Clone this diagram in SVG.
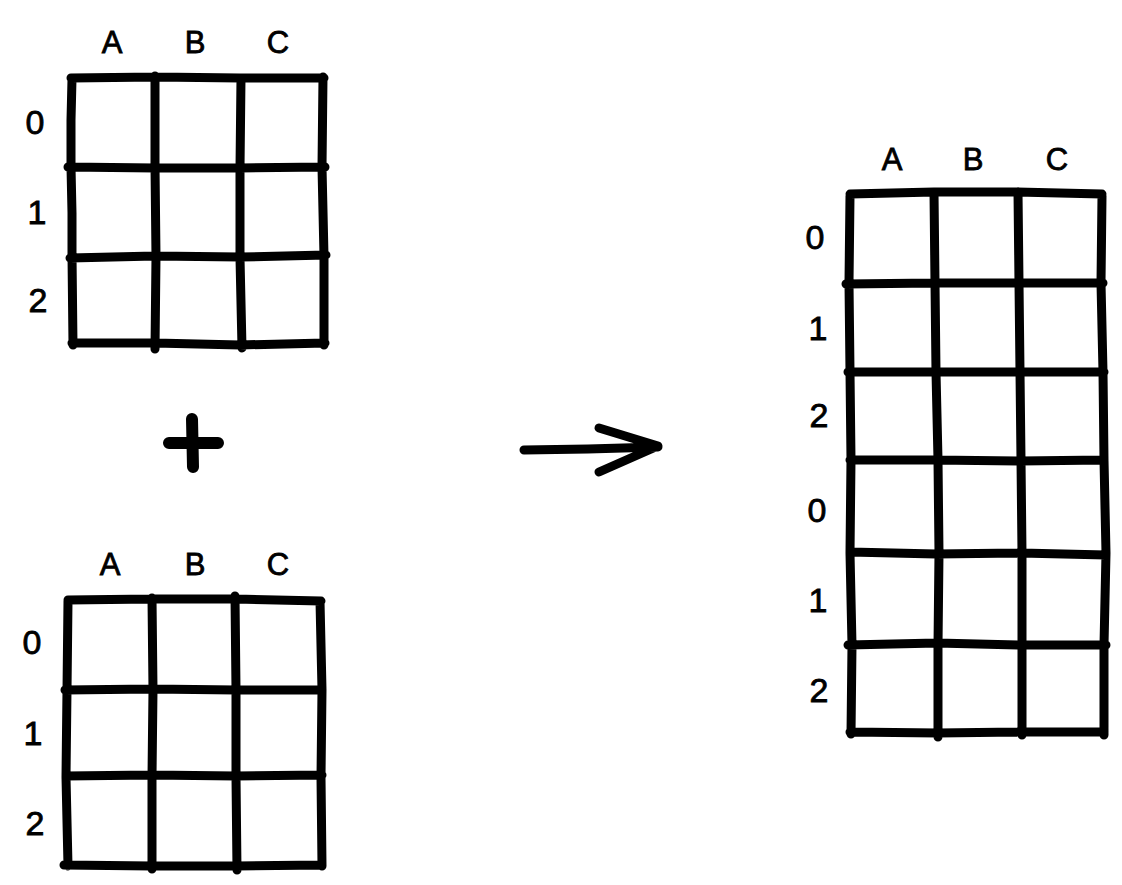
<svg xmlns="http://www.w3.org/2000/svg" width="1122" height="885" viewBox="0 0 1122 885">
<style>
.g{fill:none;stroke:#000;stroke-width:9;stroke-linecap:round;stroke-linejoin:round}
.col{font-family:"Liberation Sans","DejaVu Sans",sans-serif;font-size:31px;fill:#000;stroke:#000;stroke-width:0.8;text-anchor:middle}
.row{font-family:"Liberation Sans","DejaVu Sans",sans-serif;font-size:34px;fill:#000;stroke:#000;stroke-width:0.8;text-anchor:middle;dominant-baseline:central}
.c{fill:none;stroke:#000;stroke-width:9;stroke-linecap:round;stroke-linejoin:round}
</style>
<rect width="1122" height="885" fill="#fff"/>
<g id="table-top">
<path class="g" d="M71 78 L156 77 L240 78 L324 78 M72 79 L71 120 L71 167 L72 213 L72 255 L73 345 M155 76 L155 166 L156 256 L155 349 M241 78 L240 168 L240 258 L242 348 M323 77 L322 167 L324 256 L324 345 M68 167 L155 168 L240 168 L325 167 M70 258 L155 256 L240 257 L326 255 M72 343 L155 343 L240 345 L325 343"/>
<text class="col" x="112" y="53">A</text>
<text class="col" x="195" y="53">B</text>
<text class="col" x="278" y="53">C</text>
<text class="row" x="35" y="122">0</text>
<text class="row" x="37" y="212">1</text>
<text class="row" x="38" y="300">2</text>
</g>
<g id="table-bottom">
<path class="g" d="M68 600 L152 599 L236 599 L321 601 M68 601 L67 690 L66 777 L68 866 M152 598 L153 690 L152 777 L152 869 M235 596 L236 690 L236 777 L237 870 M320 601 L322 690 L321 777 L322 866 M65 690 L152 689 L236 690 L322 690 M66 776 L152 775 L236 776 L322 775 M64 865 L152 866 L236 866 L322 865"/>
<text class="col" x="110" y="575">A</text>
<text class="col" x="195" y="575">B</text>
<text class="col" x="278" y="575">C</text>
<text class="row" x="32" y="642">0</text>
<text class="row" x="33" y="733">1</text>
<text class="row" x="35" y="823">2</text>
</g>
<g id="plus">
<path class="c" style="stroke-width:12" d="M169 443 L218 443 M192 419 L193 467"/>
</g>
<g id="table-result">
<path class="g" d="M850 194 L934 192 L1017 192 L1102 194 M850 196 L849 283 L850 372 L851 460 L850 553 L852 645 L851 734 M934 192 L935 283 L936 372 L938 460 L939 553 L938 645 L938 737 M1018 192 L1019 283 L1020 372 L1021 460 L1022 553 L1022 645 L1022 735 M1102 196 L1101 283 L1103 372 L1104 460 L1106 553 L1104 645 L1104 735 M846 284 L934 283 L1019 283 L1103 283 M848 372 L935 372 L1019 372 L1104 372 M850 460 L935 460 L1020 461 L1104 460 M850 552 L936 554 L1021 553 L1106 555 M848 645 L937 643 L1021 645 L1106 645 M850 732 L938 733 L1022 732 L1104 732"/>
<text class="col" x="892" y="170">A</text>
<text class="col" x="973" y="170">B</text>
<text class="col" x="1057" y="170">C</text>
<text class="row" x="815" y="237">0</text>
<text class="row" x="818" y="328">1</text>
<text class="row" x="819" y="415">2</text>
<text class="row" x="817" y="510">0</text>
<text class="row" x="818" y="600">1</text>
<text class="row" x="819" y="690">2</text>
</g>
<g id="connectors">
<path class="c" d="M524 450 L588 449 L658 447 M599 428 L658 446 L599 472"/>
</g>
</svg>
